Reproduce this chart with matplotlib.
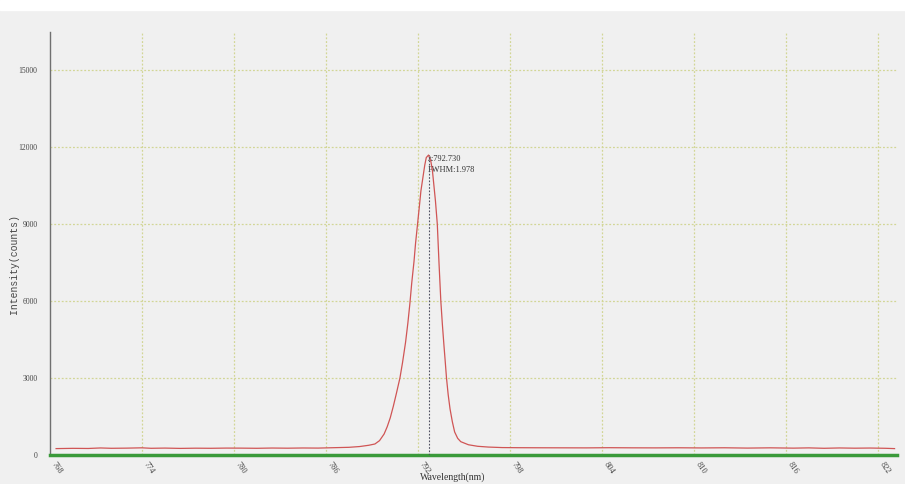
import matplotlib.pyplot as plt
import numpy as np

# spectrum
wavelength = [768.4, 769.5, 770.5, 771.3, 772.0, 773.0, 774.0, 774.6, 775.5, 776.5,
              777.5, 778.5, 779.5, 780.5, 781.5, 782.5, 783.5, 784.5, 785.5, 786.5,
              787.5, 788.2, 788.8, 789.2, 789.5, 789.8, 790.0, 790.2, 790.4, 790.6,
              790.83, 791.0, 791.2, 791.35, 791.48, 791.6, 791.75, 791.85, 791.98, 792.1,
              792.2, 792.35, 792.45, 792.55, 792.7, 792.85, 792.95, 793.05, 793.15, 793.27,
              793.38, 793.5, 793.6, 793.7, 793.78, 793.87, 793.98, 794.1, 794.25, 794.4,
              794.6, 794.8, 795.3, 795.9, 796.6, 797.5, 798.5, 800.0, 801.5, 803.0,
              804.5, 806.0, 807.5, 809.0, 810.5, 812.0, 813.5, 815.0, 816.5, 817.5,
              818.5, 819.5, 820.5, 821.5, 822.5, 823.1]
intensity = [250, 260, 255, 275, 262, 268, 280, 262, 270, 258,
             266, 262, 270, 268, 262, 272, 266, 274, 270, 285,
             300, 330, 380, 430, 560, 820, 1100, 1450, 1900, 2400,
             3000, 3600, 4400, 5150, 5900, 6700, 7550, 8250, 9000, 9700,
             10300, 10900, 11300, 11600, 11700, 11450, 11100, 10500, 9900, 9000,
             7500, 6000, 5100, 4300, 3700, 3000, 2350, 1800, 1300, 900,
             650, 520, 400, 340, 310, 290, 285, 282, 280, 278,
             285, 280, 278, 282, 276, 282, 270, 280, 268, 278,
             262, 275, 266, 272, 262, 250]

peak_wl = 792.730
fwhm = 1.978

x_ticks = [768, 774, 780, 786, 792, 798, 804, 810, 816, 822]
y_ticks = [0, 3000, 6000, 9000, 12000, 15000]

fig = plt.figure(figsize=(9.05, 4.84), dpi=100)
fig.patch.set_facecolor("#f0f0f0")
# white strip along the top edge
fig.patches.append(plt.Rectangle((0, 0.98), 1, 0.02, transform=fig.transFigure,
                                 color="white", zorder=0))

ax = fig.add_axes([0.0552, 0.0599, 0.9358, 0.8741])
ax.set_facecolor("#f0f0f0")
ax.set_xlim(768, 823.25)
ax.set_ylim(0, 16500)

ax.set_xticks(x_ticks)
ax.set_yticks(y_ticks)
ax.set_xticklabels([str(t) for t in x_ticks], rotation=-55, ha="left", va="top",
                   fontsize=6, family="Liberation Serif", color="#444444")
ax.set_yticklabels([str(t) for t in y_ticks], fontsize=5.5, family="Liberation Serif",
                   color="#444444")
ax.tick_params(length=0, pad=9)
ax.tick_params(axis="x", pad=4)

# grid
for t in x_ticks[1:]:
    ax.axvline(t, color="#d2d696", lw=0.9, ls=(0, (1.5, 1.5)), zorder=1)
for t in y_ticks[1:]:
    ax.axhline(t, color="#d2d696", lw=0.9, ls=(0, (1.5, 1.5)), zorder=1)

for s in ["top", "right", "bottom"]:
    ax.spines[s].set_visible(False)
ax.spines["left"].set_color("#707070")
ax.spines["left"].set_linewidth(1.0)

ax.axhline(0, color="#3a9a3a", lw=2.5, zorder=3, clip_on=False)

ax.plot(wavelength, intensity, color="#d05555", lw=0.9, zorder=4)

# peak marker
peak_y = np.interp(peak_wl, wavelength, intensity)
ax.plot([peak_wl, peak_wl], [0, peak_y], color="#505060", lw=0.8,
        ls=(0, (1.5, 1.5)), zorder=5)
ax.text(peak_wl - 0.1, peak_y + 60, "λ:792.730", fontsize=6,
        family=["Liberation Serif", "DejaVu Sans"], color="#333333", va="top")
ax.text(peak_wl - 0.1, peak_y - 380, "FWHM:%.3f" % fwhm, fontsize=6,
        family="Liberation Serif", color="#333333", va="top")

fig.text(0.5, 0.004, "Wavelength(nm)", fontsize=7, family="Liberation Serif",
         color="#333333", ha="center", va="bottom")
fig.text(0.016, 0.455, "Intensity(counts)", fontsize=7, family="Liberation Mono",
         color="#444444", ha="center", va="center", rotation=90)

fig.savefig("out.png", dpi=100, facecolor=fig.get_facecolor())
